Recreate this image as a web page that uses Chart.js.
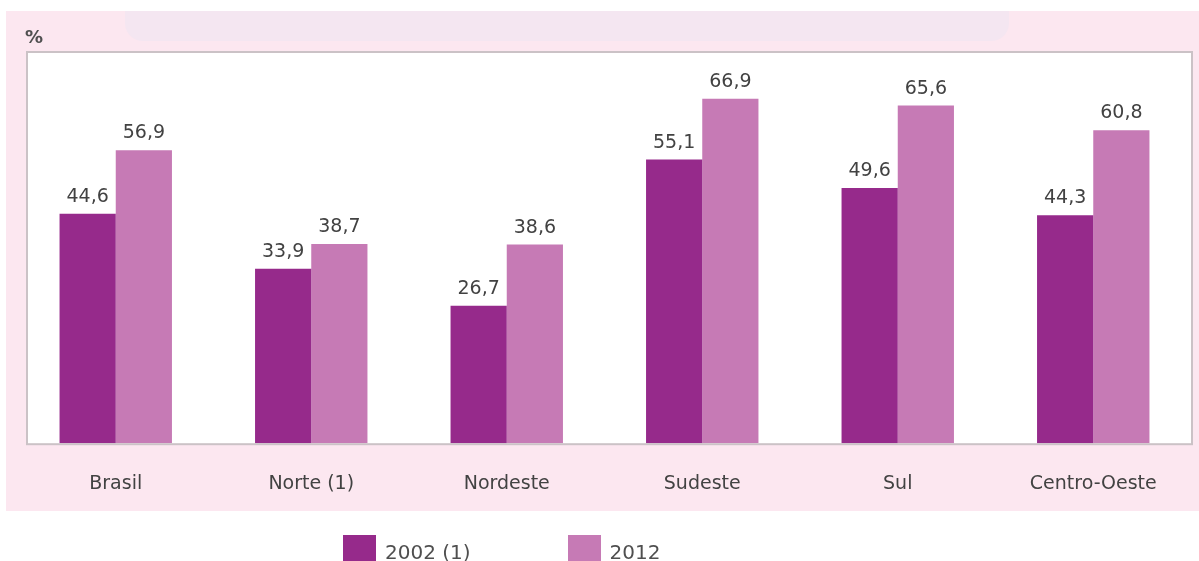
<!DOCTYPE html>
<html lang="pt-BR">

<head>
    <meta charset="UTF-8">
    <title>Gráfico</title>
    <script src="https://cdn.jsdelivr.net/npm/chart.js"></script>
    <style>
        body { margin: 0; background: #fff; }
        .wrap { position: relative; width: 1199px; height: 561px; overflow: hidden; }
        .legenda { position: absolute; top: 535px; left: 343px; display: flex; font-family: "DejaVu Sans", sans-serif; font-size: 20px; color: #4f4f4f; }
        .legenda span { display: flex; align-items: flex-start; }
        .legenda i { display: inline-block; width: 33px; height: 33px; margin-right: 9px; }
        .legenda b { font-weight: normal; line-height: 20px; margin-top: 7px; }
    </style>
</head>

<body>
    <div class="wrap">
        <canvas id="barChart"></canvas>
        <div class="legenda">
            <span><i style="background:#962a8b"></i><b id="leg0"></b></span>
            <span style="margin-left:97px"><i style="background:#c67ab5"></i><b id="leg1"></b></span>
        </div>
    </div>

    <script>
        // dados
        const categorias = ['Brasil', 'Norte (1)', 'Nordeste', 'Sudeste', 'Sul', 'Centro-Oeste'];
        const series = ['2002 (1)', '2012'];
        const valores2002 = [44.6, 33.9, 26.7, 55.1, 49.6, 44.3];
        const valores2012 = [56.9, 38.7, 38.6, 66.9, 65.6, 60.8];
        const limitesY = [0, 76];

        const corEscura = '#962a8b';
        const corClara = '#c67ab5';
        const corTexto = '#424242';

        document.getElementById('leg0').textContent = series[0];
        document.getElementById('leg1').textContent = series[1];

        // fundo rosa + caixa branca do gráfico
        const fundo = {
            id: 'fundo',
            beforeDraw(chart) {
                const ctx = chart.ctx;
                const a = chart.chartArea;
                ctx.save();
                ctx.fillStyle = '#fff';
                ctx.fillRect(0, 0, chart.width, chart.height);
                ctx.fillStyle = '#fce7f0';
                ctx.fillRect(6, 11, chart.width - 6, 500);
                ctx.fillStyle = '#f4e6f1';
                ctx.beginPath();
                ctx.roundRect(125, 11, 884, 30, [0, 0, 18, 18]);
                ctx.fill();
                ctx.fillStyle = '#fff';
                ctx.fillRect(a.left + 9, a.top, a.right - a.left - 8, a.bottom - a.top + 1);
                ctx.strokeStyle = '#cbc2c6';
                ctx.lineWidth = 2;
                ctx.strokeRect(a.left + 9, a.top, a.right - a.left - 8, a.bottom - a.top + 1);
                ctx.fillStyle = '#505050';
                ctx.font = 'bold 18px "DejaVu Sans"';
                ctx.textBaseline = 'alphabetic';
                ctx.fillText('%', a.left + 7, a.top - 9);
                ctx.restore();
            }
        };

        // rótulos de valor acima das barras
        const rotulos = {
            id: 'rotulos',
            afterDatasetsDraw(chart) {
                const ctx = chart.ctx;
                ctx.save();
                ctx.fillStyle = corTexto;
                ctx.font = '19px "DejaVu Sans"';
                ctx.textAlign = 'center';
                ctx.textBaseline = 'alphabetic';
                chart.data.datasets.forEach((ds, i) => {
                    chart.getDatasetMeta(i).data.forEach((bar, j) => {
                        const txt = ds.data[j].toFixed(1).replace('.', ',');
                        ctx.fillText(txt, bar.x, bar.y - 12);
                    });
                });
                ctx.restore();
            }
        };

        const barCtx = document.getElementById('barChart').getContext('2d');
        new Chart(barCtx, {
            type: 'bar',
            data: {
                labels: categorias,
                datasets: [{
                    label: series[0],
                    data: valores2002,
                    backgroundColor: corEscura
                }, {
                    label: series[1],
                    data: valores2012,
                    backgroundColor: corClara
                }]
            },
            options: {
                responsive: true,
                maintainAspectRatio: false,
                animation: false,
                layout: {
                    padding: { left: 18, right: 8, top: 52, bottom: 37 }
                },
                categoryPercentage: 0.575,
                barPercentage: 1,
                plugins: {
                    legend: { display: false },
                    tooltip: { enabled: false }
                },
                scales: {
                    y: {
                        display: false,
                        min: limitesY[0],
                        max: limitesY[1]
                    },
                    x: {
                        grid: { display: false, drawTicks: false },
                        border: { display: false },
                        ticks: {
                            color: corTexto,
                            padding: 29,
                            font: { family: 'DejaVu Sans', size: 19 }
                        }
                    }
                }
            },
            plugins: [fundo, rotulos]
        });
    </script>
</body>

</html>
